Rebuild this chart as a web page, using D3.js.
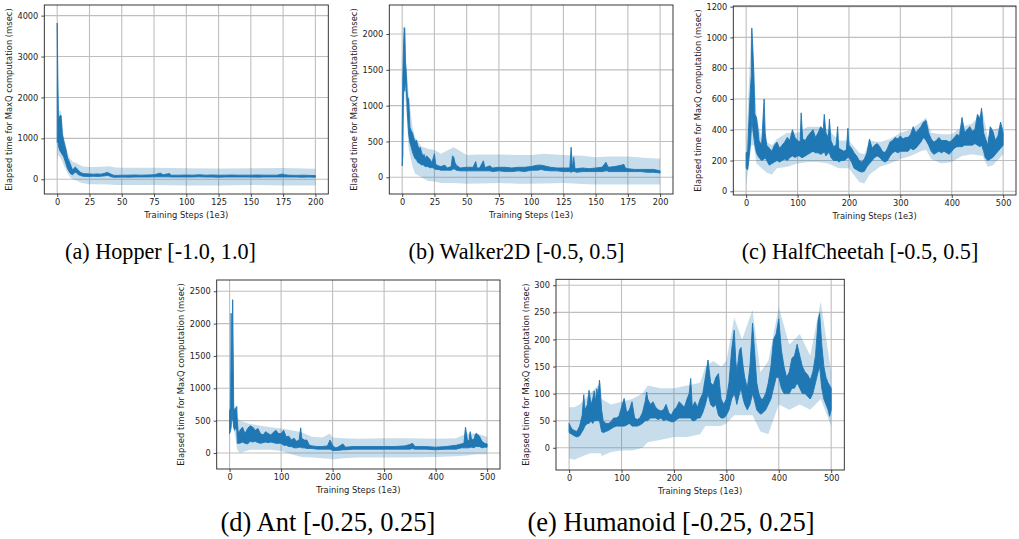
<!DOCTYPE html>
<html>
<head>
<meta charset="utf-8">
<script src="https://cdn.jsdelivr.net/npm/d3@7"></script>
<style>
  body { margin: 0; background: #fff; }
  svg { display: block; }
</style>
</head>
<body>
<svg id="fig" width="1019" height="539"></svg>
<script>
// ---------- (a) Hopper ----------
const hopperSteps = [0,0.5,1,2,3,4,5,6,7,8,9,10,11,12,13,14,15,16,18,20,22,25,28,31,34,37,39,40,42,44,47,50,55,60,65,70,75,80,82,87,88,90,95,100,105,110,115,120,125,130,135,140,145,150,155,160,165,170,175,176,180,185,190,195,200];
const hopperLow  = [900,950,800,700,650,600,550,450,350,260,200,150,120,110,150,170,160,120,90,75,70,70,75,70,75,85,95,85,60,50,50,55,50,55,55,55,60,60,60,60,55,55,55,55,55,60,55,55,50,55,55,55,55,55,50,55,55,55,55,55,55,55,50,55,50];
const hopperHigh = [3820,2470,1400,1550,1560,1100,950,820,700,520,460,380,300,220,270,300,270,230,170,140,135,130,125,130,125,150,170,150,120,95,95,100,100,105,100,105,110,150,110,140,100,100,100,105,100,110,100,105,100,100,105,100,100,100,105,100,100,100,130,110,100,95,100,95,90];
const hopperBandSteps = [0,1,3,5,8,10,12,15,18,20,25,30,40,45,50,75,100,125,150,175,200];
const hopperBandLow   = [500,600,500,350,150,50,0,-30,-80,-100,-120,-120,-130,-140,-140,-140,-150,-150,-140,-150,-150];
const hopperBandHigh  = [3900,1700,1650,1050,650,500,430,390,340,310,300,300,320,290,280,280,270,265,270,275,260];

// ---------- (b) Walker2D ----------
const walkerSteps = [0,0.5,1,1.5,2,2.5,3,4,5,6,7,8,9,10,11,12,13,14,15,16,17,18,19,20,22,23,25,26,28,30,33,35,38,39,40,41,42,45,50,55,57,58,60,63,64,65,68,70,75,80,85,90,95,100,105,108,110,115,120,125,130,131,132,133,134,135,140,145,150,155,158,159,160,165,170,172,173,175,180,185,190,195,200];
const walkerLow  = [160,300,1200,1300,1200,1300,1350,900,600,480,420,350,300,260,250,210,200,190,170,180,160,150,150,150,130,140,120,110,110,100,100,100,100,110,120,110,100,90,90,90,90,90,90,90,90,90,90,80,90,80,80,90,80,100,100,110,100,90,90,80,80,70,80,80,80,70,80,80,80,80,90,90,80,80,80,80,80,80,80,80,70,70,60];
const walkerHigh = [650,1400,1800,2090,2080,1600,1500,1120,1100,700,650,620,550,500,520,450,400,420,350,300,320,260,300,280,240,200,330,180,160,150,170,130,150,300,280,200,170,130,140,140,220,130,130,230,140,140,160,130,140,140,130,140,140,150,170,170,160,140,130,130,130,420,120,280,120,120,130,120,130,140,210,170,140,150,170,180,130,120,110,110,110,110,90];
const walkerBandSteps = [0,1,2,3,5,8,10,15,20,25,30,40,50,60,75,90,100,110,125,140,150,160,175,190,200];
const walkerBandLow   = [150,900,1200,1000,400,150,50,0,-50,-60,-80,-80,-90,-85,-80,-90,-90,-85,-80,-95,-100,-100,-100,-100,-100];
const walkerBandHigh  = [650,1800,2150,1650,1150,700,560,430,400,380,330,420,310,320,320,310,310,330,310,300,280,290,290,270,260];

// ---------- (c) HalfCheetah ----------
const cheetahSteps = [0,3,5,8,10,11,13,15,17,20,23,25,30,35,37,40,45,50,55,60,65,70,75,80,85,90,95,100,105,107,110,115,120,125,130,135,140,145,150,152,155,160,162,165,170,175,178,180,185,190,195,198,200,205,210,215,220,225,230,235,240,245,250,255,260,265,270,275,280,285,290,295,300,305,310,315,320,325,330,335,340,345,350,355,360,365,370,375,380,385,390,395,400,405,410,415,420,425,430,435,440,445,450,455,458,462,465,470,475,480,485,490,495,500];
const cheetahLow  = [150,140,200,300,400,500,400,350,300,250,230,220,200,210,220,200,170,180,190,200,190,200,210,200,220,230,220,230,230,220,220,230,240,250,260,250,250,240,250,260,230,250,250,220,200,200,200,190,200,200,210,220,220,190,150,140,130,125,130,160,180,200,220,230,220,200,190,200,230,250,260,250,260,260,260,260,280,270,280,300,320,350,330,300,260,240,250,260,250,260,250,240,260,280,290,290,290,300,300,300,300,310,300,290,300,260,220,200,210,220,240,260,280,300];
const cheetahHigh = [250,260,430,650,750,1060,930,760,500,480,400,330,300,600,380,300,280,260,300,320,280,300,320,350,330,400,350,330,320,510,340,330,360,380,400,350,380,420,400,500,380,350,470,330,290,300,420,280,270,260,270,410,300,280,250,230,200,190,210,250,340,280,300,310,290,260,250,280,320,330,350,340,360,340,350,350,370,420,380,400,420,450,460,380,340,320,330,350,330,330,330,320,330,350,370,360,480,380,400,420,390,400,500,470,540,380,350,300,420,390,330,360,450,380];
const cheetahBandSteps = [0,10,15,20,30,40,50,60,80,100,120,140,160,180,200,220,230,240,260,280,300,320,340,350,360,380,400,420,440,460,470,480,500];
const cheetahBandLow   = [40,300,300,180,150,120,110,150,160,180,190,190,180,150,150,60,50,110,160,180,210,230,260,270,210,180,190,230,240,230,160,170,240];
const cheetahBandHigh  = [270,1080,800,500,330,320,300,340,380,380,420,420,400,330,330,250,240,330,320,340,380,400,450,480,380,370,370,420,440,520,350,400,420];

// ---------- (d) Ant ----------
const antSteps = [0,2,3,4,5,6,7,8,10,12,14,15,17,20,25,30,35,40,45,50,55,60,65,70,75,80,85,90,95,100,105,110,115,120,125,130,135,138,140,145,150,155,160,170,180,190,195,200,205,210,220,225,240,260,280,300,320,340,350,355,360,380,400,420,440,450,455,458,462,465,467,470,475,477,480,485,490,495,500];
const antLow  = [300,350,400,600,700,500,500,400,350,400,350,150,150,150,170,150,140,180,170,180,160,150,160,170,160,170,160,150,150,150,120,120,100,100,80,80,90,90,80,80,70,70,70,60,60,60,60,40,40,40,50,50,60,60,60,60,60,60,60,70,60,60,50,60,60,80,80,80,80,80,90,90,80,100,100,100,80,90,90];
const antHigh = [650,700,2160,1200,1300,2370,1600,700,650,700,720,500,300,350,400,300,380,420,400,350,380,300,280,330,300,280,320,350,300,300,350,250,260,200,230,180,200,390,230,200,200,120,110,100,100,110,200,120,80,90,140,90,100,100,100,100,100,110,130,150,100,100,90,100,120,140,150,400,180,200,330,200,220,290,300,260,180,150,140];
const antBandSteps = [0,5,8,10,15,20,40,60,80,100,120,140,160,180,195,200,220,250,300,350,400,440,460,480,500];
const antBandLow   = [250,500,350,300,50,0,50,50,50,30,-20,-60,-70,-80,-90,-100,-80,-70,-70,-70,-60,-50,-40,-20,-20];
const antBandHigh  = [700,2400,800,700,550,500,450,420,400,380,350,320,250,240,300,240,230,220,230,230,220,230,300,300,250];

// ---------- (e) Humanoid ----------
const humanoidSteps = [0,5,10,15,20,25,28,30,35,38,42,45,48,50,53,55,58,62,65,70,75,80,85,90,95,100,105,110,115,120,125,130,135,140,145,148,150,155,160,165,170,175,180,185,190,195,200,205,210,215,220,225,229,232,235,240,245,250,255,260,265,270,275,280,285,290,295,300,305,310,315,318,320,325,328,332,335,340,345,350,353,358,362,366,370,375,380,385,390,395,400,405,410,415,420,425,430,435,440,445,450,455,460,465,470,475,478,482,486,490,494,497,500];
const humanoidLow  = [28,25,22,20,22,30,35,40,45,45,50,45,50,50,50,50,50,30,28,30,32,35,38,40,40,40,40,42,45,40,40,40,42,45,50,50,50,55,55,55,52,55,50,52,50,48,48,52,55,55,55,55,55,55,50,50,55,55,65,80,100,80,75,80,60,55,55,60,70,90,100,90,80,100,110,90,80,70,80,100,90,70,65,62,65,70,80,90,110,130,130,110,100,100,100,110,110,120,110,100,100,95,90,100,120,140,150,110,90,80,70,58,70];
const humanoidHigh = [45,35,32,30,40,60,98,70,80,106,80,90,105,85,109,95,125,70,50,45,45,48,55,55,58,75,91,65,70,85,55,52,55,65,85,103,90,80,85,75,70,68,70,80,65,60,70,75,85,80,75,90,100,128,75,85,75,90,100,130,162,120,115,130,137,90,80,90,120,180,217,160,140,180,185,150,130,110,150,230,190,120,100,90,90,100,120,150,200,210,238,180,150,130,140,165,170,191,170,150,140,135,125,140,170,235,248,190,150,130,120,115,110];
const humanoidBandSteps = [0,10,20,40,60,62,80,100,120,140,150,175,200,225,250,260,275,290,300,315,330,350,365,380,400,420,440,460,480,500];
const humanoidBandLow   = [-20,-22,-18,-10,-10,-15,-8,-5,-5,0,10,15,20,20,25,40,40,40,45,60,60,60,30,25,80,70,80,70,90,40];
const humanoidBandHigh  = [75,75,80,100,120,90,80,85,90,100,115,110,110,115,120,150,160,150,160,240,200,255,140,160,260,190,210,170,270,140];

// ---------- layout of the five panels ----------
const panels = [
  { steps: hopperSteps, low: hopperLow, high: hopperHigh,
    bandSteps: hopperBandSteps, bandLow: hopperBandLow, bandHigh: hopperBandHigh,
    box: { x0: 44.3, y0: 5, x1: 328.3, y1: 194 },
    xDomain: [-10, 210], yDomain: [-360, 4260],
    xTicks: d3.range(0, 201, 25), yTicks: [0, 1000, 2000, 3000, 4000],
    yLabelX: 9.3, caption: "(a) Hopper [-1.0, 1.0]", capX: 160.5, capY: 259, capSize: 22.2 },
  { steps: walkerSteps, low: walkerLow, high: walkerHigh,
    bandSteps: walkerBandSteps, bandLow: walkerBandLow, bandHigh: walkerBandHigh,
    box: { x0: 389.3, y0: 5, x1: 673, y1: 194 },
    xDomain: [-10, 210], yDomain: [-233, 2405],
    xTicks: d3.range(0, 201, 25), yTicks: [0, 500, 1000, 1500, 2000],
    yLabelX: 354, caption: "(b) Walker2D [-0.5, 0.5]", capX: 516.5, capY: 259, capSize: 22.2 },
  { steps: cheetahSteps, low: cheetahLow, high: cheetahHigh,
    bandSteps: cheetahBandSteps, bandLow: cheetahBandLow, bandHigh: cheetahBandHigh,
    box: { x0: 733.3, y0: 6, x1: 1016, y1: 195 },
    xDomain: [-25, 525], yDomain: [-24, 1204],
    xTicks: d3.range(0, 501, 100), yTicks: d3.range(0, 1201, 200),
    yLabelX: 697.5, caption: "(c) HalfCheetah [-0.5, 0.5]", capX: 860, capY: 259, capSize: 22.2 },
  { steps: antSteps, low: antLow, high: antHigh,
    bandSteps: antBandSteps, bandLow: antBandLow, bandHigh: antBandHigh,
    box: { x0: 216.7, y0: 280, x1: 500, y1: 469 },
    xDomain: [-25, 525], yDomain: [-247, 2674],
    xTicks: d3.range(0, 501, 100), yTicks: d3.range(0, 2501, 500),
    yLabelX: 181, caption: "(d) Ant [-0.25, 0.25]", capX: 328, capY: 531, capSize: 26.5 },
  { steps: humanoidSteps, low: humanoidLow, high: humanoidHigh,
    bandSteps: humanoidBandSteps, bandLow: humanoidBandLow, bandHigh: humanoidBandHigh,
    box: { x0: 556, y0: 279.3, x1: 844.3, y1: 470 },
    xDomain: [-25, 525], yDomain: [-41, 311],
    xTicks: d3.range(0, 501, 100), yTicks: d3.range(0, 301, 50),
    yLabelX: 526, caption: "(e) Humanoid [-0.25, 0.25]", capX: 671, capY: 531, capSize: 26.5 }
];

const LINE = "#1f77b4";
const svg = d3.select("#fig");
const sansFont = "DejaVu Sans, sans-serif";

panels.forEach((p, i) => {
  const { x0, y0, x1, y1 } = p.box;
  const x = d3.scaleLinear().domain(p.xDomain).range([x0, x1]);
  const y = d3.scaleLinear().domain(p.yDomain).range([y1, y0]);
  const g = svg.append("g");

  const clipId = "clip" + i;
  g.append("clipPath").attr("id", clipId)
    .append("rect").attr("x", x0).attr("y", y0).attr("width", x1 - x0).attr("height", y1 - y0);

  // grid
  const grid = g.append("g").attr("stroke", "#bfbfbf").attr("stroke-width", 1.1);
  p.xTicks.forEach(t => grid.append("line").attr("x1", x(t)).attr("x2", x(t)).attr("y1", y0).attr("y2", y1));
  p.yTicks.forEach(t => grid.append("line").attr("x1", x0).attr("x2", x1).attr("y1", y(t)).attr("y2", y(t)));

  const plot = g.append("g").attr("clip-path", `url(#${clipId})`);

  // shaded spread
  const bandData = p.bandSteps.map((s, k) => ({ s, lo: p.bandLow[k], hi: p.bandHigh[k] }));
  plot.append("path").datum(bandData)
    .attr("fill", LINE).attr("fill-opacity", 0.25)
    .attr("d", d3.area().x(d => x(d.s)).y0(d => y(d.lo)).y1(d => y(d.hi)));

  // noisy mean curve, drawn as its per-step range
  const lineData = p.steps.map((s, k) => ({ s, lo: p.low[k], hi: p.high[k] }));
  plot.append("path").datum(lineData)
    .attr("fill", LINE).attr("stroke", LINE).attr("stroke-width", 0.9).attr("stroke-linejoin", "round")
    .attr("d", d3.area().x(d => x(d.s)).y0(d => y(d.lo)).y1(d => y(d.hi)));

  // axes
  const xAxis = d3.axisBottom(x).tickValues(p.xTicks).tickSize(3).tickPadding(2.5).tickFormat(d3.format("d"));
  const yAxis = d3.axisLeft(y).tickValues(p.yTicks).tickSize(3).tickPadding(3).tickFormat(d3.format("d"));
  const ax = g.append("g").attr("transform", `translate(0,${y1})`).call(xAxis);
  const ay = g.append("g").attr("transform", `translate(${x0},0)`).call(yAxis);
  [ax, ay].forEach(a => {
    a.select(".domain").remove();
    a.selectAll("line").attr("stroke", "#222").attr("stroke-width", 0.8);
    a.selectAll("text").attr("font-family", sansFont).attr("font-size", 8.2).attr("fill", "#222");
  });

  // frame
  g.append("rect").attr("x", x0).attr("y", y0).attr("width", x1 - x0).attr("height", y1 - y0)
    .attr("fill", "none").attr("stroke", "#222").attr("stroke-width", 0.9);

  // axis titles
  g.append("text").attr("x", (x0 + x1) / 2).attr("y", y1 + 24)
    .attr("text-anchor", "middle").attr("font-family", sansFont).attr("font-size", 8.4).attr("fill", "#222")
    .text("Training Steps (1e3)");
  g.append("text")
    .attr("transform", `translate(${p.yLabelX + 3},${(y0 + y1) / 2}) rotate(-90)`)
    .attr("text-anchor", "middle").attr("font-family", sansFont).attr("font-size", 8.4).attr("fill", "#222")
    .text("Elapsed time for MaxQ computation (msec)");

  // caption
  svg.append("text").attr("x", p.capX).attr("y", p.capY)
    .attr("text-anchor", "middle").attr("font-family", "Liberation Serif, Times New Roman, serif")
    .attr("font-size", p.capSize).attr("fill", "#000")
    .text(p.caption);
});
</script>
</body>
</html>
